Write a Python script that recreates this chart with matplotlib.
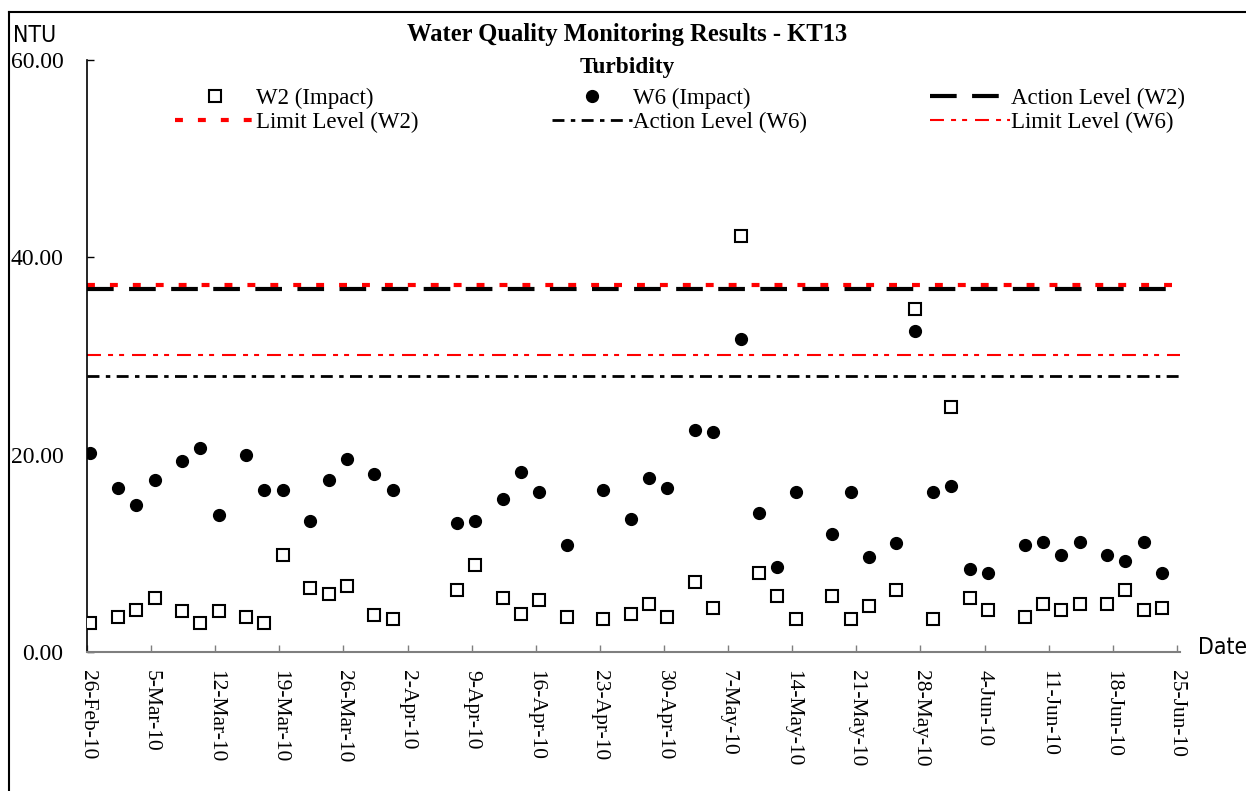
import matplotlib
matplotlib.use("Agg")
import matplotlib.pyplot as plt
import matplotlib.dates as mdates
from matplotlib.lines import Line2D
from matplotlib.ticker import FuncFormatter, FormatStrFormatter
import pandas as pd

# sampling dates and turbidity readings (NTU)
dates = ["2010-02-26", "2010-03-01", "2010-03-03", "2010-03-05", "2010-03-08", "2010-03-10",
         "2010-03-12", "2010-03-15", "2010-03-17", "2010-03-19", "2010-03-22", "2010-03-24",
         "2010-03-26", "2010-03-29", "2010-03-31", "2010-04-07", "2010-04-09", "2010-04-12",
         "2010-04-14", "2010-04-16", "2010-04-19", "2010-04-23", "2010-04-26", "2010-04-28",
         "2010-04-30", "2010-05-03", "2010-05-05", "2010-05-08", "2010-05-10", "2010-05-12",
         "2010-05-14", "2010-05-18", "2010-05-20", "2010-05-22", "2010-05-25", "2010-05-27",
         "2010-05-29", "2010-05-31", "2010-06-02", "2010-06-04", "2010-06-08", "2010-06-10",
         "2010-06-12", "2010-06-14", "2010-06-17", "2010-06-19", "2010-06-21", "2010-06-23"]

w2 = [2.9, 3.5, 4.3, 5.5, 4.2, 2.9, 4.2, 3.5, 2.9, 9.8, 6.5, 5.9,
      6.7, 3.7, 3.3, 6.3, 8.8, 5.5, 3.9, 5.3, 3.5, 3.3, 3.9, 4.9,
      3.5, 7.1, 4.5, 42.2, 8.0, 5.7, 3.3, 5.7, 3.3, 4.7, 6.3, 34.8,
      3.3, 24.8, 5.5, 4.3, 3.5, 4.9, 4.3, 4.9, 4.9, 6.3, 4.3, 4.5]

w6 = [20.2, 16.6, 14.9, 17.4, 19.4, 20.7, 13.9, 20.0, 16.4, 16.4, 13.3, 17.4,
      19.6, 18.0, 16.4, 13.1, 13.3, 15.5, 18.2, 16.2, 10.8, 16.4, 13.5, 17.6,
      16.6, 22.5, 22.3, 31.7, 14.1, 8.6, 16.2, 12.0, 16.2, 9.6, 11.0, 32.5,
      16.2, 16.8, 8.4, 8.0, 10.8, 11.1, 9.8, 11.1, 9.8, 9.2, 11.1, 8.0]

action_w2 = 36.8
limit_w2 = 37.2
action_w6 = 28.0
limit_w6 = 30.1

start, end = "2010-02-26", "2010-06-25"

serif = "Liberation Serif"
W, H = 1246, 791

fig = plt.figure(figsize=(W / 100, H / 100), dpi=100)
ax = fig.add_axes([87 / W, 1 - 652 / H, (1180 - 87) / W, (652 - 60) / H])

# samples sit a little past midnight on the date axis, like the original
x = pd.to_datetime(dates) + pd.Timedelta(hours=9)
ax.plot(x, w2, linestyle="none", marker="s", markersize=8, markerfacecolor="white",
        markeredgecolor="black", markeredgewidth=1.5, label="W2 (Impact)", zorder=5)
ax.plot(x, w6, linestyle="none", marker="o", markersize=8.5, color="black",
        label="W6 (Impact)", zorder=5)

h_a2 = ax.axhline(action_w2, color="black", lw=3, linestyle=(0, (6.4, 3.7)), label="Action Level (W2)")
h_l2 = ax.axhline(limit_w2, color="red", lw=3, linestyle=(0, (1.9, 3.6)), label="Limit Level (W2)")
h_a6 = ax.axhline(action_w6, color="black", lw=2, linestyle=(0, (4.3, 2.3, 1.6, 2.3)),
                  label="Action Level (W6)")
h_l6 = ax.axhline(limit_w6, color="red", lw=1.5, linestyle=(0, (6.7, 3.4, 2.4, 2.9, 2.4, 3.8)),
                  label="Limit Level (W6)")

ax.set_xlim(pd.Timestamp(start), pd.Timestamp(end) + pd.Timedelta(hours=8))
ax.set_ylim(0, 60)
ax.set_yticks([0, 20, 40, 60])
ax.yaxis.set_major_formatter(FormatStrFormatter("%.2f"))
ax.set_xticks(pd.date_range(start, end, freq="7D"))
ax.xaxis.set_major_formatter(FuncFormatter(
    lambda v, pos: "{}-{}".format(mdates.num2date(v).day, mdates.num2date(v).strftime("%b-%y"))))

for s in ["top", "right"]:
    ax.spines[s].set_visible(False)
ax.spines["bottom"].set_color("#7f7f7f")
ax.spines["bottom"].set_linewidth(1.5)
ax.spines["left"].set_linewidth(1.2)

ax.tick_params(axis="x", direction="in", length=5, color="#7f7f7f", width=1, pad=13,
               labelsize=15.5, labelrotation=-90)
ax.tick_params(axis="y", direction="in", length=5, width=1, pad=17, labelsize=17)
for lab in ax.get_xticklabels() + ax.get_yticklabels():
    lab.set_fontfamily(serif)
for lab in ax.get_xticklabels():
    lab.set_verticalalignment("top")

# titles and axis captions
fig.text(627 / W, 1 - 35 / H, "Water Quality Monitoring Results - KT13", ha="center", va="center",
         fontfamily=serif, fontweight="bold", fontsize=17.7)
fig.text(627 / W, 1 - 68 / H, "Turbidity", ha="center", va="center",
         fontfamily=serif, fontweight="bold", fontsize=16.8)
fig.text(13 / W, 1 - 35 / H, "NTU", ha="left", va="center", fontfamily="DejaVu Sans",
         fontstretch="condensed", fontsize=16.5)
fig.text(1198 / W, 1 - 647 / H, "Date", ha="left", va="center", fontfamily="DejaVu Sans",
         fontstretch="condensed", fontsize=16.5)

# legend in three columns
handles = ax.get_legend_handles_labels()[0]
h_w2, h_w6 = handles[0], handles[1]
cols = [([h_w2, h_l2], 175), ([h_w6, h_a6], 552), ([h_a2, h_l6], 930)]
for hs, px in cols:
    leg = fig.legend(handles=hs, labels=[h.get_label() for h in hs], loc="upper left",
                     bbox_to_anchor=(px / W, 1 - 88 / H), frameon=False, borderpad=0,
                     borderaxespad=0, handlelength=3.5, handletextpad=0.05, labelspacing=0.1,
                     prop={"family": serif, "size": 16.5})

# outer frame (top and left edges visible)
fig.add_artist(Line2D([9 / W, 1.0], [1 - 12 / H, 1 - 12 / H], transform=fig.transFigure,
                      color="black", lw=1.5))
fig.add_artist(Line2D([9 / W, 9 / W], [0.0, 1 - 12 / H], transform=fig.transFigure,
                      color="black", lw=1.5))

fig.savefig("out.png", dpi=100)
